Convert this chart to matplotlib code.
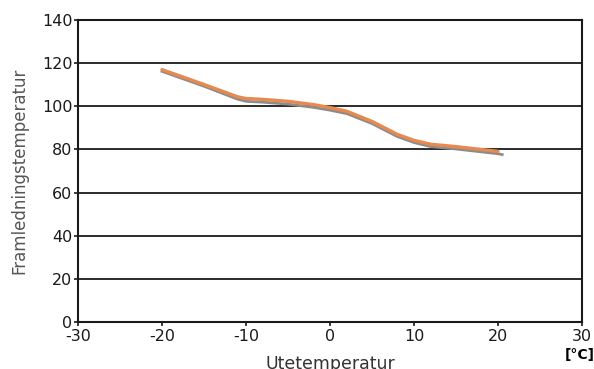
import matplotlib.pyplot as plt

plt.rcParams["axes.unicode_minus"] = False

# data
ute = [-20, -15, -11, -10, -8, -5, -2, 0, 2, 5, 8, 10, 12, 15, 20, 20.5]
fram_gray = [116.2, 109.3, 103.3, 102.3, 101.9, 101.0, 99.5, 98.2, 96.6,
             92.0, 86.0, 83.2, 81.3, 80.2, 78.0, 77.6]
fram_orange = [117.0, 110.1, 104.4, 103.6, 103.2, 102.3, 100.8, 99.4, 97.7,
               93.0, 87.0, 84.2, 82.4, 81.3, 79.1, None]
x_ticks = [-30, -20, -10, 0, 10, 20, 30]
y_ticks = [0, 20, 40, 60, 80, 100, 120, 140]

fig = plt.figure(figsize=(5.94, 3.69), dpi=100)
ax = fig.add_axes([78 / 594, 1 - 322 / 369, 504 / 594, 302 / 369])

# horizontal grid lines
for y in y_ticks[1:]:
    ax.axhline(y, color="#1a1a1a", lw=1.3, zorder=1)

ax.plot(ute, fram_gray, color="#8c8c8c", lw=2.0, zorder=2)
ax.plot(ute[:-1], fram_orange[:-1], color="#e8894f", lw=2.4, zorder=3,
        solid_capstyle="round")

ax.set_xlim(-30, 30)
ax.set_ylim(0, 140)
ax.set_xticks(x_ticks)
ax.set_yticks(y_ticks)
ax.tick_params(labelsize=11.5, length=3, width=1.2, pad=1, colors="#1a1a1a")
ax.tick_params(axis="x", pad=2)
for s in ax.spines.values():
    s.set_linewidth(1.5)
    s.set_color("#1a1a1a")

ax.set_ylabel("Framledningstemperatur", fontsize=12, color="#555555", labelpad=10)
fig.text(330 / 594, 1 - 364 / 369, "Utetemperatur", fontsize=12.5,
         color="#333333", ha="center", va="center")
fig.text(580 / 594, 1 - 355 / 369, "[°C]", fontsize=10, fontweight="bold",
         ha="center", va="center")

fig.savefig("out.png", dpi=100)
